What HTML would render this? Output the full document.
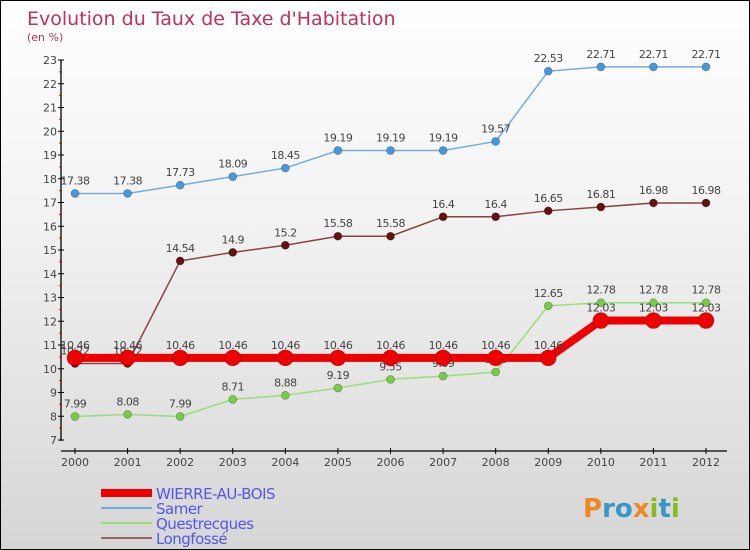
<!DOCTYPE html>
<html><head><meta charset="utf-8"><style>
body{margin:0}
#c{position:relative;width:748px;height:548px;border:1px solid #000;background:linear-gradient(#ffffff,#f2f2f2 40%,#d6d6d6);font-family:"DejaVu Sans","Liberation Sans",sans-serif;overflow:hidden}
</style></head><body>
<div id="c">
<svg id="s" width="748" height="548"></svg>
</div>
<script>
const years=[2000,2001,2002,2003,2004,2005,2006,2007,2008,2009,2010,2011,2012];
const wierre=[10.46,10.46,10.46,10.46,10.46,10.46,10.46,10.46,10.46,10.46,12.03,12.03,12.03];
const samer=[17.38,17.38,17.73,18.09,18.45,19.19,19.19,19.19,19.57,22.53,22.71,22.71,22.71];
const questrecques=[7.99,8.08,7.99,8.71,8.88,9.19,9.55,9.69,9.86,12.65,12.78,12.78,12.78];
const longfosse=[10.22,10.22,14.54,14.9,15.2,15.58,15.58,16.4,16.4,16.65,16.81,16.98,16.98];
const yTicks=[7,8,9,10,11,12,13,14,15,16,17,18,19,20,21,22,23];
const NS="http://www.w3.org/2000/svg";
const s=document.getElementById('s');
const X=i=>74+i*(705-74)/(years.length-1);
const Y=v=>439-(v-7)*(439-59)/16;
function el(t,a,p){const e=document.createElementNS(NS,t);for(const k in a)e.setAttribute(k,a[k]);(p||s).appendChild(e);return e;}
let t=el('text',{x:26,y:24,fill:'#c0305a','font-size':19});t.textContent="Evolution du Taux de Taxe d'Habitation";

t=el('text',{x:26,y:40,fill:'#c0305a','font-size':11});t.textContent="(en %)";

// axes
let a=el('line',{x1:60,y1:59,x2:60,y2:440,stroke:'#000','stroke-width':1.3});

a=el('line',{x1:60,y1:450,x2:726,y2:450,stroke:'#000','stroke-width':1.3});

yTicks.forEach(v=>{el('line',{x1:57,y1:Y(v),x2:63,y2:Y(v),stroke:'#000'});
 if(v<23)el('line',{x1:58,y1:Y(v+0.5),x2:61,y2:Y(v+0.5),stroke:'#e00'});
 const l=el('text',{x:56,y:Y(v)+4,'text-anchor':'end','font-size':11,fill:'#444'});l.textContent=v;
 });
years.forEach((y,i)=>{el('line',{x1:X(i),y1:447,x2:X(i),y2:453,stroke:'#000'});
 const l=el('text',{x:X(i),y:465,'text-anchor':'middle','font-size':11,fill:'#444'});l.textContent=y;
 });
function series(data,col,dot,w,r,name){
 const p=el('polyline',{points:data.map((v,i)=>X(i)+','+Y(v)).join(' '),fill:'none',stroke:col,'stroke-width':w});
 
 data.forEach((v,i)=>{const c=el('circle',{cx:X(i),cy:Y(v),r:r,fill:dot,stroke:'rgba(0,0,0,0.3)','stroke-width':0.7});
  
  const l=el('text',{x:X(i),y:Y(v)-9,'text-anchor':'middle','font-size':11,fill:'#444','letter-spacing':'-0.5'});l.textContent=v;
  });
}
series(questrecques,'#99dd77','#77cc44',1.5,4,'questrecques');
series(samer,'#77aadd','#4499dd',1.5,4,'samer');
series(longfosse,'#884444','#661111',1.5,4,'longfosse');
series(wierre,'#ee0000','#ee0000',8,8,'wierre-au-bois');
// legend
const leg=[['WIERRE-AU-BOIS','#ee0000',8],['Samer','#77aadd',2],['Questrecques','#99dd77',2],['Longfossé','#996666',2]];
leg.forEach((g,i)=>{const y=492+i*15;
 const l=el('line',{x1:100,y1:y,x2:151,y2:y,stroke:g[1],'stroke-width':g[2]});
 
 const tx=el('text',{x:155,y:y+6,'font-size':15,fill:'#5555ee','letter-spacing':'-0.5'});tx.textContent=g[0];
 });
const b=el('text',{x:582,y:516,'font-size':26,'font-weight':'bold',fill:'#3399cc'});

b.innerHTML='<tspan fill="#ee8822">P</tspan>ro<tspan fill="#ee8822">x</tspan><tspan fill="#88bb22">i</tspan>t<tspan fill="#88bb22">i</tspan>';
</script>
</body></html>
